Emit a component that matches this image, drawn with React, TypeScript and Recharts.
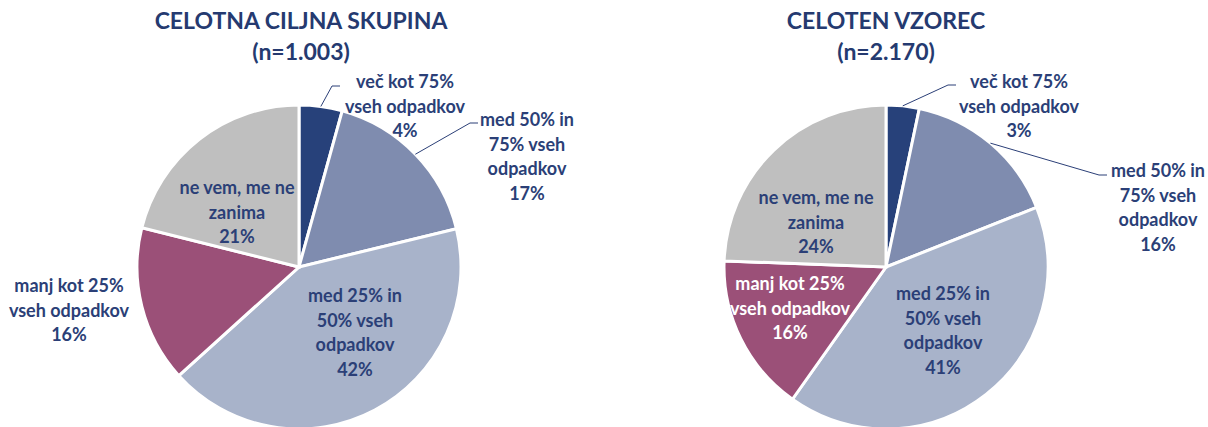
import { PieChart, Pie, Cell } from 'recharts';

// slices clockwise from 12 o'clock
const categories = [
  'več kot 75% vseh odpadkov',
  'med 50% in 75% vseh odpadkov',
  'med 25% in 50% vseh odpadkov',
  'manj kot 25% vseh odpadkov',
  'ne vem, me ne zanima',
];
const labelLines = [
  ['več kot 75%', 'vseh odpadkov'],
  ['med 50% in', '75% vseh', 'odpadkov'],
  ['med 25% in', '50% vseh', 'odpadkov'],
  ['manj kot 25%', 'vseh odpadkov'],
  ['ne vem, me ne', 'zanima'],
];
const leftValues = [4.3, 16.9, 42.1, 15.6, 21.1];
const rightValues = [3.3, 15.7, 40.8, 15.8, 24.4];
const leftTitle = ['CELOTNA CILJNA SKUPINA', '(n=1.003)'];
const rightTitle = ['CELOTEN VZOREC', '(n=2.170)'];

const COLORS = ['#27417a', '#7f8caf', '#a8b3ca', '#9b5078', '#bfbfbf'];
const NAVY = '#2b3f77';
const FONT = 'Lato, "Open Sans", sans-serif';
const LINE_H = 24.5;

type Lay = { dx: number; dy: number; color?: string; elbow?: [number, number]; end?: number };

// label offsets from the pie centre (first line centre), leader elbows for outside labels
const leftLayout: Lay[] = [
  { dx: 106, dy: -186, elbow: [33, -181], end: 41 },
  { dx: 228, dy: -148, elbow: [171, -144], end: 179 },
  { dx: 56, dy: 28 },
  { dx: -230, dy: 18 },
  { dx: -62, dy: -80 },
];
const rightLayout: Lay[] = [
  { dx: 133, dy: -186, elbow: [62, -182], end: 70 },
  { dx: 272, dy: -97, elbow: [213, -92], end: 221 },
  { dx: 57, dy: 26 },
  { dx: -96, dy: 16, color: '#ffffff' },
  { dx: -70, dy: -70 },
];

const RAD = Math.PI / 180;

const makeLabel = (layout: Lay[]) => (props: any) => {
  const { cx, cy, midAngle, outerRadius, index, percent } = props;
  const l = layout[index];
  const lines = [...labelLines[index], `${Math.round(percent * 100)}%`];
  const x = cx + l.dx;
  const y0 = cy + l.dy;
  let leader = null;
  if (l.elbow) {
    const sx = cx + outerRadius * Math.cos(-midAngle * RAD);
    const sy = cy + outerRadius * Math.sin(-midAngle * RAD);
    const ex = cx + l.elbow[0];
    const ey = cy + l.elbow[1];
    leader = (
      <polyline
        points={`${sx},${sy} ${ex},${ey} ${cx + (l.end ?? 0)},${ey}`}
        fill="none"
        stroke={NAVY}
        strokeWidth={1}
      />
    );
  }
  return (
    <g key={`lbl-${index}`}>
      {leader}
      <text
        textAnchor="middle"
        fill={l.color ?? NAVY}
        fontFamily={FONT}
        fontWeight={700}
        fontSize={18}
      >
        {lines.map((t, i) => (
          <tspan key={i} x={x} y={y0 + i * LINE_H} dominantBaseline="central">
            {t}
          </tspan>
        ))}
      </text>
    </g>
  );
};

function Title({ lines, x }: { lines: string[]; x: number }) {
  return (
    <div
      style={{
        position: 'absolute',
        left: x - 200,
        top: 5,
        width: 400,
        textAlign: 'center',
        fontFamily: FONT,
        fontWeight: 700,
        fontSize: 23,
        lineHeight: '31px',
        color: '#253a70',
      }}
    >
      {lines.map((t) => (
        <div key={t}>{t}</div>
      ))}
    </div>
  );
}

export default function App() {
  const left = categories.map((name, i) => ({ name, value: leftValues[i] }));
  const right = categories.map((name, i) => ({ name, value: rightValues[i] }));

  return (
    <div style={{ position: 'relative', width: 1208, height: 427, background: '#fff', overflow: 'hidden' }}>
      <style>{'body{margin:0}'}</style>
      <PieChart width={1208} height={427} margin={{ top: 0, right: 0, bottom: 0, left: 0 }}>
        <Pie
          data={left}
          dataKey="value"
          nameKey="name"
          cx={299}
          cy={267}
          outerRadius={162}
          startAngle={90}
          endAngle={-270}
          stroke="#ffffff"
          strokeWidth={3}
          label={makeLabel(leftLayout)}
          labelLine={false}
          isAnimationActive={false}
        >
          {left.map((d, i) => (
            <Cell key={d.name} fill={COLORS[i]} />
          ))}
        </Pie>
        <Pie
          data={right}
          dataKey="value"
          nameKey="name"
          cx={886}
          cy={267}
          outerRadius={162}
          startAngle={90}
          endAngle={-270}
          stroke="#ffffff"
          strokeWidth={3}
          label={makeLabel(rightLayout)}
          labelLine={false}
          isAnimationActive={false}
        >
          {right.map((d, i) => (
            <Cell key={d.name} fill={COLORS[i]} />
          ))}
        </Pie>
      </PieChart>
      <Title lines={leftTitle} x={301} />
      <Title lines={rightTitle} x={886} />
    </div>
  );
}
